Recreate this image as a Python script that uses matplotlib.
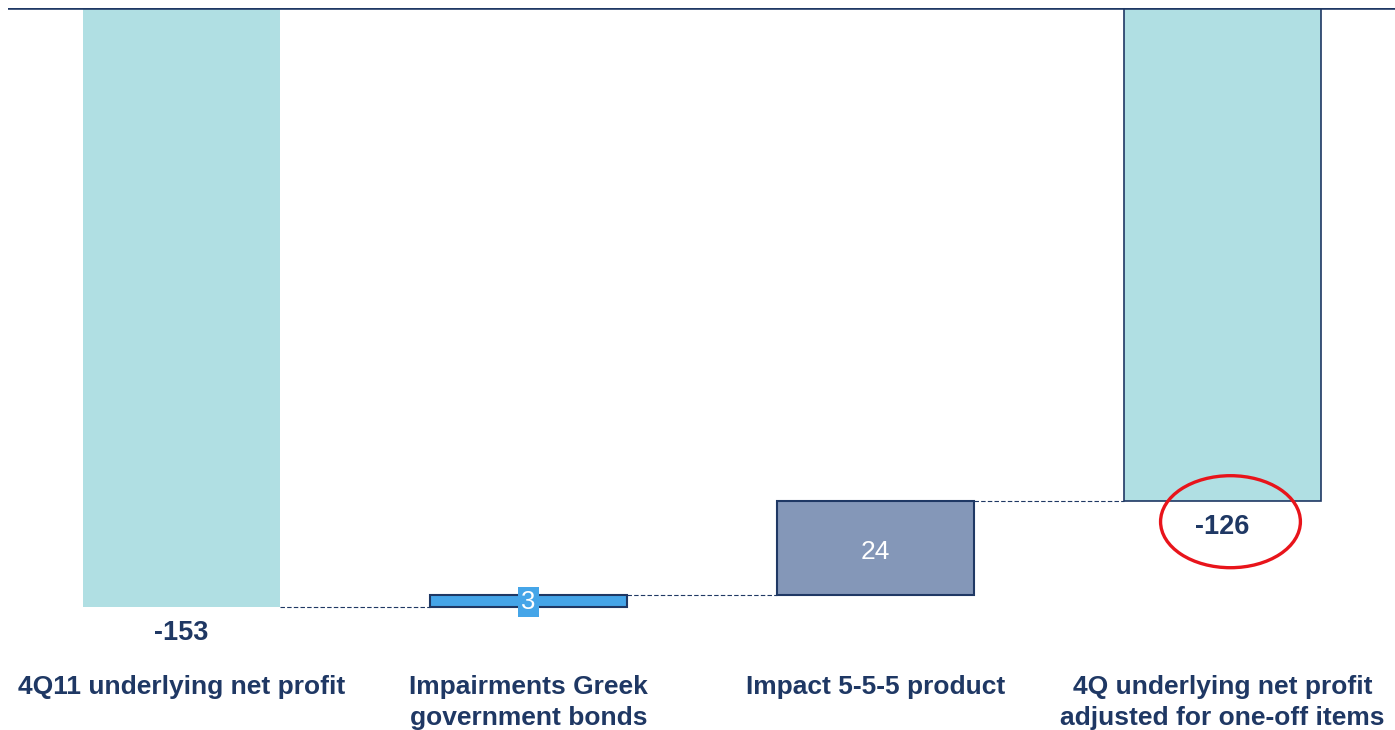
import matplotlib.pyplot as plt
from matplotlib.patches import Ellipse

# waterfall data (EUR m)
categories = ["4Q11 underlying net profit",
              "Impairments Greek\ngovernment bonds",
              "Impact 5-5-5 product",
              "4Q underlying net profit\nadjusted for one-off items"]
start_value = -153
deltas = [3, 24]
end_value = -126

navy = "#1F3864"
teal = "#B0DFE3"
blue = "#45A5E8"
slate = "#8497B8"

plt.rcParams['font.family'] = ['Liberation Sans', 'DejaVu Sans']

fig = plt.figure(figsize=(13.95, 7.3), dpi=100)
ax = fig.add_axes([8 / 1395, 0, 1388 / 1395, 722 / 730])
ax.set_xlim(-0.5, 3.5)
ax.set_ylim(-184.4, 0)
ax.axis('off')

w = 0.565

# top axis line at zero
ax.axhline(0, color=navy, lw=2.6, zorder=5)

# totals
ax.bar(0, start_value, width=w, color=teal, zorder=2)
ax.bar(3, end_value, width=w, color=teal, edgecolor=navy, lw=1.2, zorder=2)

# increments
level = start_value
colors = [blue, slate]
for i, (d, c) in enumerate(zip(deltas, colors)):
    ax.bar(i + 1, d, bottom=level, width=w, color=c, edgecolor=navy, lw=1.5, zorder=2)
    level += d

# connectors
conn_levels = [start_value, start_value + deltas[0], start_value + sum(deltas)]
for i, y in enumerate(conn_levels):
    ax.plot([i + w / 2, i + 1 - w / 2], [y, y], color=navy, lw=0.8,
            ls=(0, (4, 2)), zorder=1)

# value labels
ax.text(0, start_value - 6.6, f"{start_value}", ha='center', va='center',
        fontsize=19.5, fontweight='bold', color=navy)
ax.text(3, end_value - 6.6, f"{end_value}", ha='center', va='center',
        fontsize=19.5, fontweight='bold', color=navy)
ax.text(1, start_value + deltas[0] / 2 - 0.3, f"{deltas[0]}", ha='center', va='center',
        fontsize=18.5, color='white', zorder=4,
        bbox=dict(boxstyle='square,pad=0.12', facecolor=blue, edgecolor='none'))
ax.text(2, start_value + deltas[0] + deltas[1] / 2 - 1.0, f"{deltas[1]}", ha='center',
        va='center', fontsize=19, color='white', zorder=4)

# category labels, one text per line
for i, lab in enumerate(categories):
    for k, line in enumerate(lab.split("\n")):
        ax.text(i, -173.5 - 7.92 * k, line, ha='center', va='center', fontsize=19,
                fontweight='bold', color=navy)

# highlight ellipse
ax.add_patch(Ellipse((3.023, -131.2), 0.403, 23.5, fill=False,
                     edgecolor='#E8141B', lw=2.4, zorder=6))

fig.savefig("out.png", dpi=100)
